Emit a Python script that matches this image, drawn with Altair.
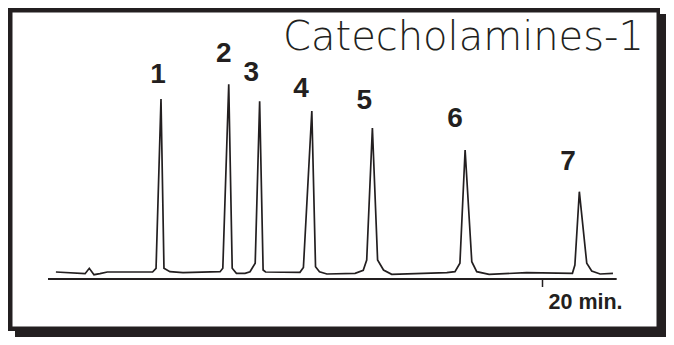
import altair as alt
import pandas as pd

# Chromatogram trace (time in minutes, detector response in arbitrary units)
trace_time = [0.32, 1.50, 1.67, 1.86, 2.10, 2.40, 4.23, 4.37, 4.57, 4.69, 4.93, 5.46,
              6.96, 7.07, 7.31, 7.45, 7.62, 7.97, 8.17, 8.38, 8.56, 8.70, 8.80,
              10.19, 10.33, 10.67, 10.82, 10.98, 11.28, 12.42, 12.75, 12.89, 13.12,
              13.33, 13.57, 13.90, 16.13, 16.46, 16.66, 16.87, 17.14, 17.34, 17.84,
              19.36, 21.21, 21.31, 21.49, 21.79, 21.99, 22.33, 22.85]
trace_signal = [7.0, 5.3, 10.7, 4.3, 5.3, 7.0, 7.0, 10.7, 180.0, 10.7, 7.3, 6.3,
                7.3, 10.7, 194.7, 10.7, 5.7, 5.7, 7.3, 15.7, 177.7, 9.0, 7.0,
                6.7, 11.5, 168.0, 12.3, 7.3, 5.0, 5.7, 8.7, 19.0, 151.0,
                19.0, 9.0, 4.7, 6.3, 7.3, 15.7, 129.0, 17.3, 7.3, 4.7,
                6.3, 5.7, 14.0, 87.3, 15.7, 8.0, 5.0, 5.7]

# Peak labels
peak_names = ["1", "2", "3", "4", "5", "6", "7"]
label_time = [4.45, 7.11, 8.22, 10.23, 12.79, 16.46, 21.03]
label_signal = [196.0, 217.0, 198.0, 182.0, 170.0, 152.0, 109.0]

# Time axis
axis_start = [0.0]
axis_end = [23.0]
tick_time = [20.0]
tick_text = ["20 min."]
title_text = "Catecholamines-1"

INK = "#231f20"
X = alt.Scale(domain=[-1.618, 24.995], nice=False, zero=False)
Y = alt.Scale(domain=[-58, 271], nice=False, zero=False)

trace_df = pd.DataFrame({"t": trace_time, "s": trace_signal})
label_df = pd.DataFrame({"t": label_time, "s": label_signal, "name": peak_names})
axis_df = pd.DataFrame({"t0": axis_start, "t1": axis_end, "s": [0.0]})
tick_df = pd.DataFrame({"t": tick_time, "s0": [0.0], "s1": [-8.0], "s2": [-30.0], "label": tick_text})

shadow = alt.Chart().mark_rect(color=INK).encode(
    x=alt.value(7), x2=alt.value(658), y=alt.value(6), y2=alt.value(329))
frame = alt.Chart().mark_rect(color=INK).encode(
    x=alt.value(0), x2=alt.value(652), y=alt.value(0), y2=alt.value(323))
inner = alt.Chart().mark_rect(color="white").encode(
    x=alt.value(4.5), x2=alt.value(648.5), y=alt.value(4.5), y2=alt.value(318.5))

axis_line = alt.Chart(axis_df).mark_rule(color=INK, strokeWidth=1.8).encode(
    x=alt.X("t0:Q", scale=X, axis=None), x2="t1:Q",
    y=alt.Y("s:Q", scale=Y, axis=None))
tick = alt.Chart(tick_df).mark_rule(color=INK, strokeWidth=1.5).encode(
    x=alt.X("t:Q", scale=X, axis=None),
    y=alt.Y("s0:Q", scale=Y, axis=None), y2="s1:Q")
tick_lbl = alt.Chart(tick_df).mark_text(
    color=INK, align="left", baseline="alphabetic", dx=6,
    font="Liberation Sans", fontWeight="bold", fontSize=21.5).encode(
    x=alt.X("t:Q", scale=X, axis=None),
    y=alt.Y("s2:Q", scale=Y, axis=None), text="label:N")

line = alt.Chart(trace_df).mark_line(color=INK, strokeWidth=1.7, strokeJoin="miter").encode(
    x=alt.X("t:Q", scale=X, axis=None),
    y=alt.Y("s:Q", scale=Y, axis=None), order="t:Q")

labels = alt.Chart(label_df).mark_text(
    color=INK, align="center", baseline="alphabetic",
    font="Liberation Sans", fontWeight="bold", fontSize=28).encode(
    x=alt.X("t:Q", scale=X, axis=None),
    y=alt.Y("s:Q", scale=Y, axis=None), text="name:N")

title = alt.Chart().mark_text(
    color=INK, align="left", baseline="alphabetic",
    font="DejaVu Sans", fontWeight=200, fontSize=40).encode(
    x=alt.value(275), y=alt.value(42), text=alt.value(title_text))

chart = alt.layer(shadow, frame, inner, axis_line, tick, tick_lbl, line, labels, title).properties(
    width=658, height=329, padding=0, autosize=alt.AutoSizeParams(type="none"),
    background="white"
).configure_view(stroke=None)

chart.save("out.html", embed_options={"renderer": "svg", "actions": False})
